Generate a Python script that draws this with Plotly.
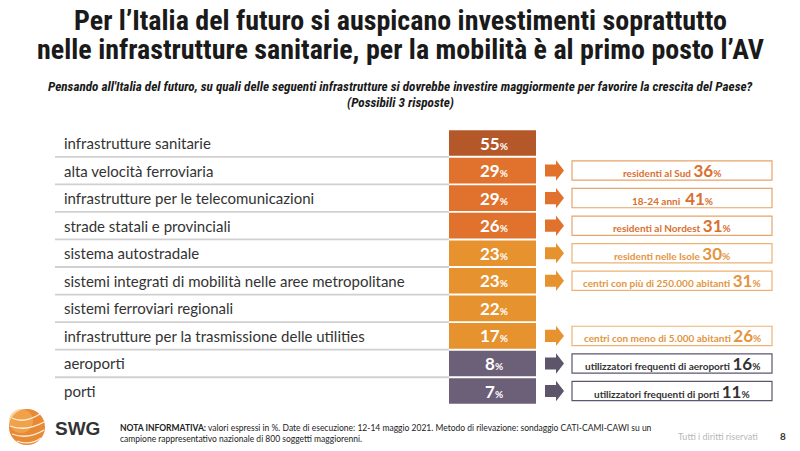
import plotly.graph_objects as go

categories = [
    "infrastrutture sanitarie",
    "alta velocità ferroviaria",
    "infrastrutture per le telecomunicazioni",
    "strade statali e provinciali",
    "sistema autostradale",
    "sistemi integrati di mobilità nelle aree metropolitane",
    "sistemi ferroviari regionali",
    "infrastrutture per la trasmissione delle utilities",
    "aeroporti",
    "porti",
]
values = [55, 29, 29, 26, 23, 23, 22, 17, 8, 7]
highlight_labels = [
    None,
    "residenti al Sud",
    "18-24 anni ",
    "residenti al Nordest",
    "residenti nelle Isole",
    "centri con più di 250.000 abitanti",
    None,
    "centri con meno di 5.000 abitanti",
    "utilizzatori frequenti di aeroporti",
    "utilizzatori frequenti di porti",
]
highlight_values = [None, 36, 41, 31, 30, 31, None, 26, 16, 11]

# styles
DARK = "#B4582A"
ORANGE = "#E0722E"
LIGHT = "#E6922F"
PURPLE = "#6B6077"
box_colors = [DARK, ORANGE, ORANGE, ORANGE, LIGHT, LIGHT, LIGHT, LIGHT, PURPLE, PURPLE]
arrow_colors = [None, ORANGE, ORANGE, ORANGE, LIGHT, LIGHT, None, LIGHT, "#5D5569", "#5D5569"]
hl_text_colors = [None, "#D8702F", "#D8702F", "#D8702F", "#E3953F", "#E3953F", None, "#E3953F", "#333333", "#333333"]
hl_border_colors = [None, "#E8A46A", "#E8A46A", "#E8A46A", "#EDB272", "#EDB272", None, "#EDB272", "#5E5670", "#5E5670"]

TITLE_FONT = "Liberation Sans Narrow, Arial Narrow, Roboto Condensed, Liberation Sans, sans-serif"
BODY_FONT = "Lato, Open Sans, sans-serif"

W, H = 800, 451
row0_px, row_step = 143.0, 27.56
y_top = -row0_px / row_step
y_bot = (H - row0_px) / row_step

rows = list(range(len(categories)))

box_x0, box_w = 449, 87
hl_x0, hl_w = 572, 200

fig = go.Figure()

# value boxes
fig.add_trace(go.Bar(
    y=rows, x=[box_w] * len(rows), base=[box_x0] * len(rows), orientation="h",
    width=0.93, marker=dict(color=box_colors, line=dict(width=0)),
    hoverinfo="skip", showlegend=False,
))

# highlight boxes
hl_rows = [i for i in rows if highlight_labels[i] is not None]
fig.add_trace(go.Bar(
    y=hl_rows, x=[hl_w] * len(hl_rows), base=[hl_x0] * len(hl_rows), orientation="h",
    width=0.70,
    marker=dict(color="white", line=dict(color=[hl_border_colors[i] for i in hl_rows], width=1.2)),
    hoverinfo="skip", showlegend=False,
))

shapes = []
annotations = []

# row separator lines
for i in rows[:-1]:
    shapes.append(dict(type="line", xref="x", yref="y", x0=55, x1=box_x0, y0=i + 0.5, y1=i + 0.5,
                       line=dict(color="#D0D0D0", width=1.8)))

# arrows
for i in hl_rows:
    b, h = 0.22, 0.37
    path = (f"M 545 {i - b} L 556 {i - b} L 556 {i - h} L 564 {i} L 556 {i + h} "
            f"L 556 {i + b} L 545 {i + b} Z")
    shapes.append(dict(type="path", xref="x", yref="y", path=path,
                       fillcolor=arrow_colors[i], line=dict(width=0)))

# category labels
for i, c in enumerate(categories):
    annotations.append(dict(x=62, y=i, xref="x", yref="y", text=c, showarrow=False,
                            xanchor="left", yanchor="middle",
                            font=dict(family=BODY_FONT, size=15, color="#333333")))

# values
for i, v in enumerate(values):
    annotations.append(dict(x=box_x0 + box_w / 2 + 1, y=i, xref="x", yref="y",
                            text=f"<b>{v}<span style='font-size:10px'>%</span></b>",
                            showarrow=False, xanchor="center", yanchor="middle",
                            font=dict(family=BODY_FONT, size=17, color="white")))

# highlight texts
for i in hl_rows:
    annotations.append(dict(
        x=hl_x0 + hl_w / 2, y=i, xref="x", yref="y",
        text=(f"<b>{highlight_labels[i]} <span style='font-size:17px'>{highlight_values[i]}</span>"
              f"<span style='font-size:10px'>%</span></b>"),
        showarrow=False, xanchor="center", yanchor="middle",
        font=dict(family=BODY_FONT, size=10, color=hl_text_colors[i])))

def py(p):
    return 1 - p / H

def px(p):
    return p / W

# titles
annotations.append(dict(x=0.5, y=py(21), xref="paper", yref="paper", showarrow=False,
                        text="<b>Per l’Italia del futuro si auspicano investimenti soprattutto</b>",
                        xanchor="center", yanchor="middle",
                        font=dict(family=TITLE_FONT, size=28, color="#1A1A1A")))
annotations.append(dict(x=0.5, y=py(50), xref="paper", yref="paper", showarrow=False,
                        text="<b>nelle infrastrutture sanitarie, per la mobilità è al primo posto l’AV</b>",
                        xanchor="center", yanchor="middle",
                        font=dict(family=TITLE_FONT, size=28, color="#1A1A1A")))
annotations.append(dict(x=0.5, y=py(86), xref="paper", yref="paper", showarrow=False,
                        text="<b><i>Pensando all'Italia del futuro, su quali delle seguenti infrastrutture si dovrebbe investire maggiormente per favorire la crescita del Paese?</i></b>",
                        xanchor="center", yanchor="middle",
                        font=dict(family=TITLE_FONT, size=13.2, color="#1A1A1A")))
annotations.append(dict(x=0.5, y=py(102), xref="paper", yref="paper", showarrow=False,
                        text="<b><i>(Possibili 3 risposte)</i></b>",
                        xanchor="center", yanchor="middle",
                        font=dict(family=TITLE_FONT, size=13.2, color="#1A1A1A")))

# footer
annotations.append(dict(x=px(118), y=py(433), xref="paper", yref="paper", showarrow=False,
                        text=("<b>NOTA INFORMATIVA:</b> valori espressi in %. Date di esecuzione: 12-14 maggio 2021. "
                              "Metodo di rilevazione: sondaggio CATI-CAMI-CAWI su un<br>campione rappresentativo "
                              "nazionale di 800 soggetti maggiorenni."),
                        xanchor="left", yanchor="middle", align="left",
                        font=dict(family=BODY_FONT, size=8.5, color="#222222")))
annotations.append(dict(x=px(760), y=py(436), xref="paper", yref="paper", showarrow=False,
                        text="Tutti i diritti riservati", xanchor="right", yanchor="middle",
                        font=dict(family=BODY_FONT, size=9, color="#B8B8B8")))
annotations.append(dict(x=px(783), y=py(436), xref="paper", yref="paper", showarrow=False,
                        text="<b>8</b>", xanchor="center", yanchor="middle",
                        font=dict(family=BODY_FONT, size=10, color="#333333")))
annotations.append(dict(x=px(53), y=py(428), xref="paper", yref="paper", showarrow=False,
                        text="<b>SWG</b>", xanchor="left", yanchor="middle",
                        font=dict(family="Liberation Sans, Arial, sans-serif", size=19, color="#333333")))

# logo globe
shapes.append(dict(type="circle", xref="paper", yref="paper",
                   x0=px(9), x1=px(45), y0=py(445), y1=py(409),
                   fillcolor="#E88A35", line=dict(width=0)))
shapes.append(dict(type="circle", xref="paper", yref="paper",
                   x0=px(9), x1=px(33), y0=py(433), y1=py(409),
                   fillcolor="rgba(245,180,90,0.55)", line=dict(width=0)))
for (ax, ay, cx, cy, bx, by) in [(12, 418, 24, 424, 40, 414), (10, 426, 26, 432, 44, 422),
                                 (12, 434, 28, 440, 44, 430), (17, 441, 30, 446, 41, 438)]:
    shapes.append(dict(type="path", xref="paper", yref="paper",
                       path=f"M {px(ax)} {py(ay)} Q {px(cx)} {py(cy)} {px(bx)} {py(by)}",
                       line=dict(color="rgba(255,255,255,0.85)", width=1.3)))

fig.update_layout(
    width=W, height=H,
    margin=dict(l=0, r=0, t=0, b=0),
    paper_bgcolor="white", plot_bgcolor="white",
    xaxis=dict(range=[0, W], visible=False, fixedrange=True),
    yaxis=dict(range=[y_bot, y_top], visible=False, fixedrange=True),
    barmode="overlay",
    shapes=shapes, annotations=annotations,
)

fig.write_html("out.html", config={"displayModeBar": False},
               post_script="document.body.style.margin='0';document.body.style.overflow='hidden';")
